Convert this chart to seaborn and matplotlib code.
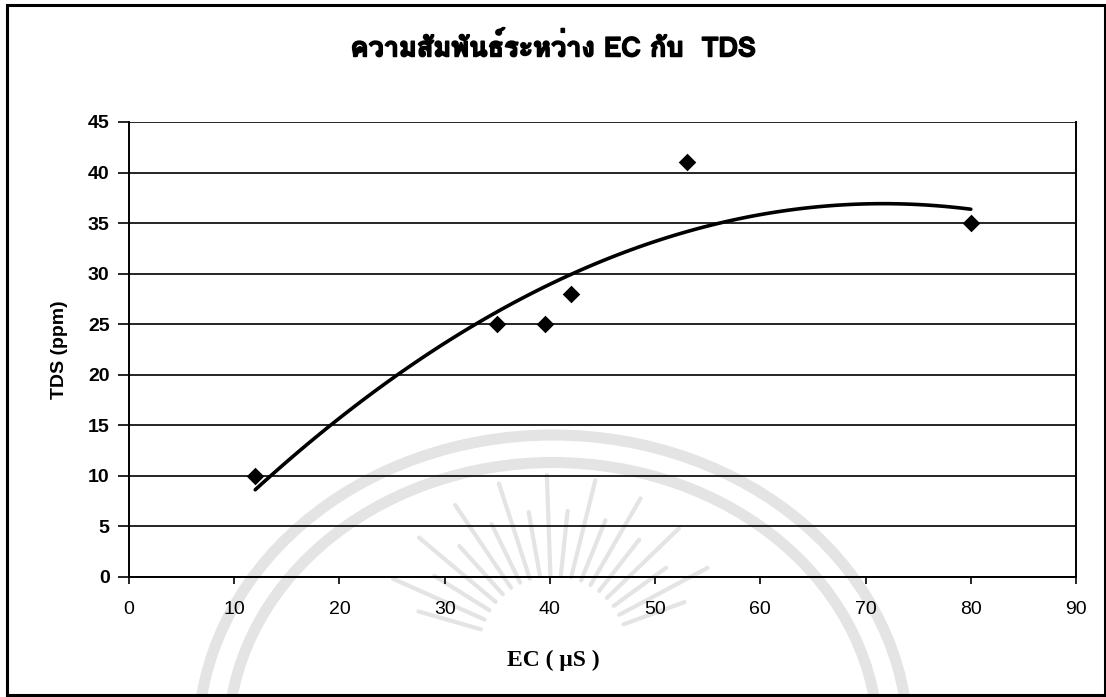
import matplotlib
matplotlib.use("Agg")
import matplotlib.pyplot as plt
from matplotlib import font_manager, ft2font
from matplotlib.patches import Arc
import matplotlib.patheffects as pe
import seaborn as sns
import pandas as pd
import numpy as np

# Measurements: electrical conductivity vs total dissolved solids
ec_values = [12, 35, 39.5, 42, 53, 80]
tds_values = [10, 25, 25, 28, 41, 35]
x_ticks = [0, 10, 20, 30, 40, 50, 60, 70, 80, 90]
y_ticks = [0, 5, 10, 15, 20, 25, 30, 35, 40, 45]

title_text = "ความสัมพันธ์ระหว่าง EC กับ  TDS"
x_label = "EC ( μS )"
y_label = "TDS (ppm)"

df = pd.DataFrame({"EC": ec_values, "TDS": tds_values})


def find_thai_font():
    """Return the name of an installed font that covers Thai script, preferring bold."""
    probe = [ord(c) for c in "ความสัมพันธ์"]
    regular, bold = None, None
    for entry in font_manager.fontManager.ttflist:
        try:
            cmap = ft2font.FT2Font(entry.fname).get_charmap()
        except Exception:
            continue
        if all(cp in cmap for cp in probe):
            if entry.weight in ("bold", 700, "heavy", 800, 900):
                bold = bold or entry.name
            else:
                regular = regular or entry.name
    return bold or regular


sns.set_theme(style="white")
thai_font = find_thai_font()
base_family = ["Liberation Sans", "DejaVu Sans"]
title_family = ([thai_font] if thai_font else []) + base_family
plt.rcParams["font.family"] = base_family

fig = plt.figure(figsize=(11.06, 6.97), dpi=100)
fig.patch.set_facecolor("white")

# Faint emblem watermark behind the chart (pixel coordinates, y downward)
wm = fig.add_axes([0, 0, 1, 1], zorder=0)
wm.set_xlim(0, 1106)
wm.set_ylim(697, 0)
wm.axis("off")
wm_color = "#e4e4e4"
for w, h in [(710, 610), (650, 555)]:
    wm.add_patch(Arc((553, 740), w, h, theta1=180, theta2=360,
                     color=wm_color, lw=8))
cx, cy = 553, 650
for i, ang in enumerate(np.arange(20, 165, 8)):
    a = np.deg2rad(ang)
    r0, r1 = 75, (175 if i % 2 else 140)
    wm.plot([cx + r0 * np.cos(a), cx + r1 * np.cos(a)],
            [cy - r0 * np.sin(a), cy - r1 * np.sin(a)],
            color=wm_color, lw=3, solid_capstyle="round")

ax = fig.add_axes([0.1166, 0.1722, 0.8563, 0.6528], zorder=1)
ax.patch.set_alpha(0)

sns.regplot(
    data=df, x="EC", y="TDS", order=2, ci=None, ax=ax, marker="D",
    scatter_kws=dict(s=80, color="black", alpha=1, linewidths=0, zorder=4),
    line_kws=dict(color="black", lw=2.6, zorder=3),
)

ax.set_xlim(0, 90)
ax.set_ylim(0, 45)
ax.set_xticks(x_ticks)
ax.set_yticks(y_ticks)
ax.set_xticklabels([str(v) for v in x_ticks], fontsize=14, color="black")
ax.set_yticklabels([str(v) for v in y_ticks], fontsize=14, fontweight="bold", color="black")

ax.yaxis.grid(True, color="black", lw=1.2)
ax.xaxis.grid(False)
ax.set_axisbelow(True)
for side in ("left", "bottom", "right"):
    ax.spines[side].set_visible(True)
    ax.spines[side].set_color("black")
    ax.spines[side].set_linewidth(1.4)
ax.spines["top"].set_visible(False)

ax.tick_params(axis="y", direction="out", length=8, width=1.2, left=True, pad=6, colors="black")
ax.tick_params(axis="x", direction="out", length=5, width=1.2, bottom=True, pad=12, colors="black")

ax.set_xlabel("")
ax.set_ylabel(y_label, fontsize=14, fontweight="bold", color="black", labelpad=14)

fig.text(0.5, 0.053, x_label, ha="center", va="center", fontsize=17, fontweight="bold",
         family=["Liberation Serif", "DejaVu Serif"], color="black")
fig.text(0.5, 0.932, title_text, ha="center", va="center", fontsize=19.5, fontweight="bold",
         family=title_family, color="black",
         path_effects=[pe.withStroke(linewidth=1.2, foreground="black")])

# Outer chart border
fig.add_artist(plt.Rectangle((0.006, 0.003), 0.993, 0.99, transform=fig.transFigure,
                             fill=False, edgecolor="black", lw=2.2, zorder=5))

fig.savefig("out.png", dpi=100, facecolor="white")
